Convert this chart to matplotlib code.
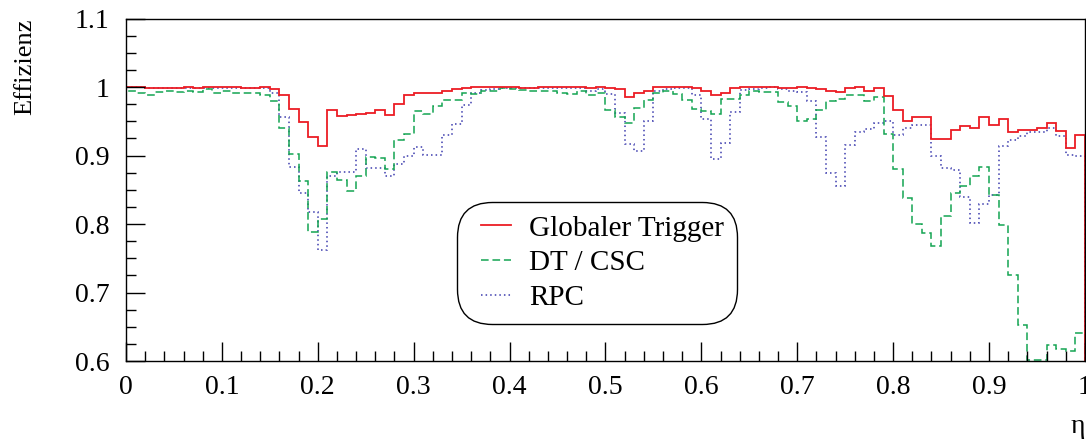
import matplotlib
matplotlib.use("Agg")
import matplotlib.pyplot as plt
from matplotlib.lines import Line2D
from matplotlib.legend_handler import HandlerLine2D
from matplotlib.ticker import MultipleLocator, FormatStrFormatter
import numpy as np

# eta bin edges: 100 bins from 0 to 1
eta_lo = 0.0
eta_hi = 1.0
n_bins = 100

# Globaler Trigger
eff_global = [
    1.000, 1.000, 0.998, 0.999, 0.999, 0.999, 1.000, 0.998, 1.000, 1.000,
    1.000, 1.000, 0.999, 0.999, 1.000, 0.997, 0.989, 0.968, 0.949, 0.927,
    0.914, 0.967, 0.958, 0.959, 0.960, 0.962, 0.966, 0.959, 0.976, 0.989,
    0.991, 0.992, 0.991, 0.995, 0.997, 0.999, 1.000, 1.000, 1.000, 1.000,
    1.000, 0.999, 0.999, 1.000, 1.000, 1.000, 1.000, 1.000, 0.998, 1.000,
    0.998, 0.997, 0.986, 0.991, 0.995, 1.000, 1.000, 1.000, 1.000, 0.998,
    0.995, 0.988, 0.992, 0.999, 1.000, 1.000, 1.000, 1.000, 0.999, 0.999,
    1.000, 0.998, 0.997, 0.995, 0.993, 0.999, 1.000, 0.995, 0.998, 0.987,
    0.966, 0.951, 0.957, 0.956, 0.924, 0.924, 0.937, 0.943, 0.940, 0.956,
    0.945, 0.954, 0.935, 0.937, 0.938, 0.941, 0.947, 0.936, 0.911, 0.930,
]

# DT / CSC
eff_dtcsc = [
    0.995, 0.992, 0.989, 0.993, 0.995, 0.993, 0.995, 0.993, 0.997, 0.992,
    0.994, 0.991, 0.992, 0.992, 0.989, 0.979, 0.941, 0.902, 0.863, 0.789,
    0.808, 0.876, 0.865, 0.849, 0.870, 0.898, 0.897, 0.881, 0.923, 0.932,
    0.965, 0.961, 0.972, 0.981, 0.981, 0.991, 0.990, 0.994, 0.995, 0.998,
    0.997, 0.996, 0.994, 0.994, 0.994, 0.992, 0.990, 0.994, 0.989, 0.991,
    0.966, 0.957, 0.948, 0.970, 0.981, 0.992, 0.995, 0.990, 0.981, 0.968,
    0.965, 0.961, 0.983, 0.983, 0.989, 0.994, 0.993, 0.993, 0.978, 0.972,
    0.951, 0.954, 0.967, 0.979, 0.982, 0.989, 0.989, 0.980, 0.985, 0.932,
    0.880, 0.838, 0.800, 0.787, 0.768, 0.812, 0.845, 0.855, 0.870, 0.883,
    0.842, 0.799, 0.725, 0.652, 0.601, 0.601, 0.624, 0.618, 0.615, 0.641,
]

# RPC
eff_rpc = [
    1.000, 1.000, 0.998, 0.998, 0.999, 0.998, 0.999, 0.999, 0.999, 0.999,
    0.998, 0.998, 0.998, 0.998, 0.998, 0.991, 0.956, 0.884, 0.845, 0.818,
    0.762, 0.870, 0.876, 0.876, 0.909, 0.882, 0.882, 0.870, 0.888, 0.900,
    0.912, 0.901, 0.901, 0.930, 0.946, 0.974, 0.991, 0.996, 0.997, 0.998,
    0.998, 0.998, 0.998, 0.998, 0.998, 0.998, 0.998, 0.998, 0.994, 0.997,
    0.990, 0.962, 0.917, 0.906, 0.951, 0.995, 0.997, 0.998, 0.998, 0.989,
    0.953, 0.895, 0.918, 0.964, 0.996, 0.997, 0.998, 1.000, 0.997, 0.995,
    0.993, 0.979, 0.927, 0.874, 0.855, 0.915, 0.935, 0.939, 0.948, 0.951,
    0.930, 0.940, 0.945, 0.945, 0.900, 0.882, 0.879, 0.840, 0.801, 0.829,
    0.842, 0.914, 0.923, 0.928, 0.935, 0.935, 0.941, 0.928, 0.901, 0.900,
]

labels = ["Globaler Trigger", "DT / CSC", "RPC"]

plt.rcParams["font.family"] = ["Liberation Serif", "DejaVu Serif"]

edges = np.linspace(eta_lo, eta_hi, n_bins + 1)

fig = plt.figure(figsize=(10.86, 4.43), dpi=100)
ax = fig.add_axes([0.116, 0.185, 0.883, 0.773])

red = "#ec1c24"
green = "#14a452"
blue = "#3c3cae"
dash_green = (0, (5, 2.5))
dot_blue = (0, (1, 2))

ax.stairs(eff_rpc, edges, baseline=0, color=blue, lw=1.1, linestyle=dot_blue)
ax.stairs(eff_dtcsc, edges, baseline=0, color=green, lw=1.1, linestyle=dash_green)
ax.stairs(eff_global, edges, baseline=0, color=red, lw=1.3)

ax.set_xlim(0, 1)
ax.set_ylim(0.6, 1.1)

ax.xaxis.set_major_locator(MultipleLocator(0.1))
ax.xaxis.set_minor_locator(MultipleLocator(0.02))
ax.yaxis.set_major_locator(MultipleLocator(0.1))
ax.yaxis.set_minor_locator(MultipleLocator(0.025))
ax.xaxis.set_major_formatter(FormatStrFormatter("%g"))
ax.yaxis.set_major_formatter(FormatStrFormatter("%g"))
ax.tick_params(which="both", direction="in", top=False, right=False,
               labelsize=20, width=1.0)
ax.tick_params(which="major", length=14)
ax.tick_params(which="minor", length=7)
ax.tick_params(axis="x", pad=10)
ax.tick_params(axis="y", pad=12)

for sp in ax.spines.values():
    sp.set_linewidth(1.0)

ax.set_ylabel("Effizienz", fontsize=19, loc="top")
ax.yaxis.set_label_coords(-0.094, 1.0)
ax.set_xlabel("η", fontsize=20, loc="right", labelpad=10)

handles = [
    Line2D([], [], color=red, lw=1.3),
    Line2D([], [], color=green, lw=1.1, linestyle=dash_green),
    Line2D([], [], color=blue, lw=1.1, linestyle=dot_blue),
]
hmap = {h: HandlerLine2D(xpad=0.38) for h in handles}
leg = ax.legend(handles, labels, loc="upper left", bbox_to_anchor=(0.345, 0.464),
                borderaxespad=0, fontsize=21, frameon=True, fancybox=True,
                handlelength=1.41, handletextpad=0.62, labelspacing=0.28,
                borderpad=0.45, handler_map=hmap)
frame = leg.get_frame()
frame.set_edgecolor("black")
frame.set_linewidth(1.0)
frame.set_alpha(1)
frame.set_boxstyle("round,pad=0,rounding_size=1.2")

fig.savefig("out.png", dpi=100)
